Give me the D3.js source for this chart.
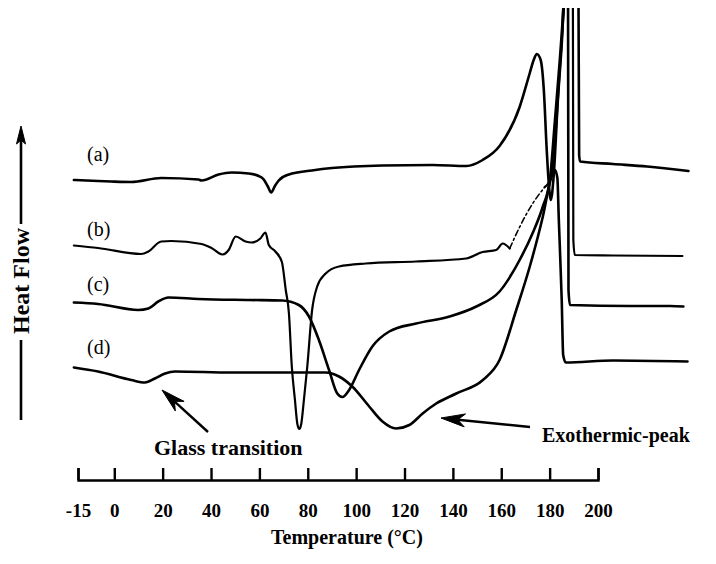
<!DOCTYPE html>
<html>
<head>
<meta charset="utf-8">
<script src="https://cdn.jsdelivr.net/npm/d3@7"></script>
<style>
  html, body { margin: 0; padding: 0; background: #fff; }
  svg { display: block; }
</style>
</head>
<body>
<svg id="chart" width="716" height="564"></svg>
<script>
// DSC traces (a)–(d): temperature in °C, heat flow in arbitrary units
const tempA = [-16.7,-6.7,-1.3,7.0,19.4,34.8,36.1,43.1,48.5,55.6,59.7,61.8,63.4,64.9,66.4,68.0,72.2,81.7,90.0,110.8,131.5,145.6,152.3,159.3,167.6,171.8,173.4,174.7,176.3,177.6,178.8,179.7,180.5,181.7,183.4,185.1,186.3,189.2,191.9,192.2,192.6,206.2,220.3,237.4];
const heatA = [60,59.8,59.7,59.6,60.4,60.1,59.9,61.1,61.5,61.3,60.8,60.1,58.8,57.5,58.8,59.9,61.1,61.9,62.4,62.9,63,62.8,64,66.8,74.6,81.4,84,85.2,84,78,66,59,56,61,76,88,100,104,100,65,63.7,63.2,62.7,61.8];

const tempB = [-16.7,-6.7,11.1,14.1,19.4,23.6,36.1,40.2,44.8,47.3,50.2,54.3,56.8,60.4,62.5,63.9,66.6,69.3,70.9,72.2,73.4,74.7,75.7,76.5,77.3,78.4,79.8,81.8,83.9,87.4,92.9,104.0,124.8,145.5,152.3,157.9,160.6,163.5,167.6,173.0,178.0,180.5,182.6,184.2,185.9,186.7,188.4,189.6,189.8,190.4,206.2,234.9];
const heatB = [46.9,46.4,45.2,45.7,47.7,47.8,47.2,46.4,45.1,46,48.7,47.7,47.5,48.3,49.5,47,45.7,43.6,38,33.4,22.7,16,11.2,10.2,11.2,16,22.7,34,38.7,41.3,42.7,43.3,43.7,44.3,45.6,46,47.3,46.3,50.6,55.3,58.6,60.4,70,82,94,100,103,100,48,45,44.9,44.8];
// temperature span of trace (b) recorded as a broken line
const dashedB = [163.5, 178.0];

const tempC = [-16.7,-6.7,9.9,14.1,18.2,22.4,34.8,55.6,69.4,76.3,80.5,84.6,88.8,92.2,94.3,97.1,101.2,106.7,113.7,124.8,138.6,149.7,159.3,167.6,173.0,177.2,180.1,182.2,184.2,185.5,186.3,186.9,187.6,187.8,188.4,213.3,229.9,235.3];
const heatC = [35.5,35.2,34,34.3,35.7,36.5,36.2,36,35.9,35,32.7,28,22,17.3,16.6,18,22,26.7,29.7,31.3,32.7,34.7,37.7,44,49.4,54.7,60,72,84,93,100,102,100,38,35,34.8,34.8,34.7];

const tempD = [-16.7,-6.7,7.0,12.7,16.8,21.0,25.1,48.5,87.4,92.9,98.4,105.4,110.9,116.5,122.0,127.5,133.1,141.4,152.4,159.3,166.2,171.8,177.2,180.8,182.2,183.2,183.8,185.0,185.6,186.7,206.2,237.0];
const heatD = [22.5,21.7,20,19.5,20.3,21.3,21.7,21.5,21.5,20.7,18.7,14.7,11.7,10.3,11,13.3,15.3,17.3,20,24,34,42.7,52.7,60.7,62,60.4,52,36,25,23.5,23.9,23.7];

const traceLabels = ["(a)", "(b)", "(c)", "(d)"];
const tickValues = [-15, 0, 20, 40, 60, 80, 100, 120, 140, 160, 180, 200];

const svg = d3.select("#chart");
const W = 716, H = 564;
const axisY = 480;

const x = d3.scaleLinear().domain([-15, 200]).range([78, 598]);
const y = d3.scaleLinear().domain([0, 95]).range([axisY, 5]);

svg.append("rect").attr("width", W).attr("height", H).attr("fill", "#fff");

// traces run off the top of the recording
svg.append("defs").append("clipPath").attr("id", "plotClip")
  .append("rect").attr("x", 0).attr("y", 8).attr("width", W).attr("height", H - 8);

const line = d3.line()
  .x(d => x(d[0]))
  .y(d => y(d[1]))
  .curve(d3.curveMonotoneX);

const zip = (t, v) => t.map((d, i) => [d, v[i]]);

const traces = svg.append("g").attr("clip-path", "url(#plotClip)")
  .attr("fill", "none").attr("stroke", "#000")
  .attr("stroke-linejoin", "round").attr("stroke-linecap", "round");

const ptsA = zip(tempA, heatA);
const ptsB = zip(tempB, heatB);
const ptsC = zip(tempC, heatC);
const ptsD = zip(tempD, heatD);

traces.append("path").attr("d", line(ptsA)).attr("stroke-width", 2.6);
traces.append("path").attr("d", line(ptsC)).attr("stroke-width", 2.6);
traces.append("path").attr("d", line(ptsD)).attr("stroke-width", 2.6);

// trace (b): solid, broken segment, solid
traces.append("path").attr("d", line(ptsB.filter(d => d[0] <= dashedB[0]))).attr("stroke-width", 2.2);
traces.append("path").attr("d", line(ptsB.filter(d => d[0] >= dashedB[0] && d[0] <= dashedB[1])))
  .attr("stroke-width", 1.6).attr("stroke-dasharray", "6 3 2 3");
traces.append("path").attr("d", line(ptsB.filter(d => d[0] >= dashedB[1]))).attr("stroke-width", 2.2);

// temperature axis with ticks pointing up
const axis = d3.axisBottom(x)
  .tickValues(tickValues)
  .tickFormat(d => String(d))
  .tickSize(-12)
  .tickSizeOuter(-12)
  .tickPadding(24);

const gAxis = svg.append("g").attr("transform", `translate(0,${axisY})`).call(axis);
gAxis.select(".domain").attr("stroke", "#000").attr("stroke-width", 2.4).attr("fill", "none");
gAxis.selectAll(".tick line").attr("stroke", "#000").attr("stroke-width", 2.4);
gAxis.selectAll(".tick text")
  .attr("fill", "#000")
  .style("font-family", "'Liberation Serif', 'DejaVu Serif', serif")
  .style("font-weight", "bold")
  .style("font-size", "19px");

svg.append("text")
  .attr("x", 347).attr("y", 544)
  .attr("text-anchor", "middle")
  .style("font-family", "'Liberation Serif', serif")
  .style("font-weight", "bold")
  .style("font-size", "20px")
  .text("Temperature (°C)");

// heat flow label with upward arrow
const hfX = 21;
svg.append("text")
  .attr("transform", `translate(${hfX + 8},281) rotate(-90)`)
  .attr("text-anchor", "middle")
  .style("font-family", "'Liberation Serif', serif")
  .style("font-weight", "bold")
  .style("font-size", "24px")
  .text("Heat Flow");
svg.append("line").attr("x1", hfX).attr("x2", hfX).attr("y1", 140).attr("y2", 224)
  .attr("stroke", "#000").attr("stroke-width", 2.6);
svg.append("line").attr("x1", hfX).attr("x2", hfX).attr("y1", 340).attr("y2", 420)
  .attr("stroke", "#000").attr("stroke-width", 2.6);
svg.append("path")
  .attr("d", `M${hfX},126 L${hfX + 4.5},144 L${hfX},140 L${hfX - 4.5},144 Z`)
  .attr("fill", "#000").attr("stroke", "#000").attr("stroke-width", 1);

// trace labels
const labelY = [161, 236, 291, 354];
svg.selectAll("text.trace").data(traceLabels).join("text")
  .attr("class", "trace")
  .attr("x", 87).attr("y", (d, i) => labelY[i])
  .style("font-family", "'Liberation Serif', serif")
  .style("font-size", "20px")
  .text(d => d);

// annotation arrows
function arrow(tail, tip, len, half) {
  const dx = tip[0] - tail[0], dy = tip[1] - tail[1];
  const L = Math.hypot(dx, dy), ux = dx / L, uy = dy / L;
  const bx = tip[0] - ux * len, by = tip[1] - uy * len;
  const nx = -uy * half, ny = ux * half;
  const nbx = tip[0] - ux * len * 0.7, nby = tip[1] - uy * len * 0.7;
  svg.append("line")
    .attr("x1", tail[0]).attr("y1", tail[1]).attr("x2", nbx).attr("y2", nby)
    .attr("stroke", "#000").attr("stroke-width", 2.4);
  svg.append("path")
    .attr("d", `M${tip[0]},${tip[1]} L${bx + nx},${by + ny} L${nbx},${nby} L${bx - nx},${by - ny} Z`)
    .attr("fill", "#000").attr("stroke", "#000").attr("stroke-width", 1).attr("stroke-linejoin", "round");
}
arrow([208, 432], [162, 390], 24, 6.5);
arrow([530, 427], [441, 418], 24, 6.5);

svg.append("text")
  .attr("x", 154).attr("y", 455)
  .style("font-family", "'Liberation Serif', serif")
  .style("font-weight", "bold")
  .style("font-size", "22px")
  .text("Glass transition");

svg.append("text")
  .attr("x", 542).attr("y", 442)
  .style("font-family", "'Liberation Serif', serif")
  .style("font-weight", "bold")
  .style("font-size", "20px")
  .text("Exothermic-peak");
</script>
</body>
</html>
